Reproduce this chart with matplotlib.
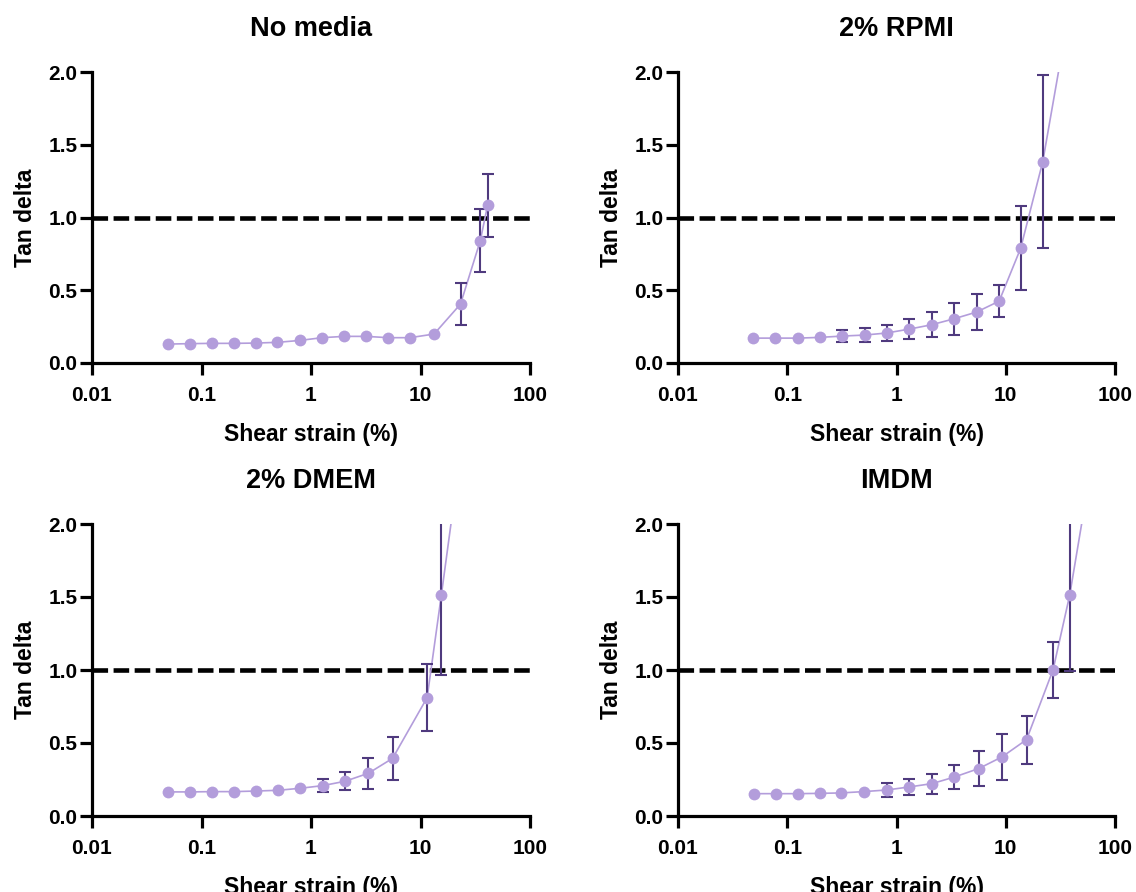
import numpy as np
import matplotlib.pyplot as plt
from matplotlib.ticker import FixedLocator, NullLocator

plt.rcParams['font.family'] = ['Liberation Sans', 'DejaVu Sans']
plt.rcParams['font.weight'] = 'bold'

# Data (strain %, tan delta, error)
titles = ['No media', '2% RPMI', '2% DMEM', 'IMDM']

strain_none = [0.049, 0.078, 0.124, 0.196, 0.313, 0.494, 0.79, 1.26, 2.01, 3.19, 5.07, 8.0, 13.3, 23.2, 35.1, 41.0]
tan_none = [0.130, 0.133, 0.135, 0.135, 0.137, 0.142, 0.155, 0.174, 0.183, 0.183, 0.174, 0.174, 0.199, 0.405, 0.839, 1.083]
err_none = [0, 0, 0, 0, 0, 0, 0, 0, 0, 0, 0, 0, 0, 0.145, 0.216, 0.215]

strain_rpmi = [0.049, 0.078, 0.125, 0.199, 0.318, 0.51, 0.81, 1.31, 2.1, 3.37, 5.4, 8.7, 13.7, 21.8, 34.0]
tan_rpmi = [0.171, 0.171, 0.171, 0.176, 0.185, 0.192, 0.206, 0.233, 0.263, 0.304, 0.350, 0.425, 0.789, 1.383, 2.21]
err_rpmi = [0, 0, 0, 0, 0.040, 0.048, 0.055, 0.070, 0.087, 0.111, 0.122, 0.112, 0.290, 0.593, 0]

strain_dmem = [0.0495, 0.079, 0.125, 0.198, 0.315, 0.50, 0.80, 1.28, 2.05, 3.35, 5.56, 11.5, 15.5, 21.4]
tan_dmem = [0.165, 0.165, 0.167, 0.167, 0.171, 0.176, 0.190, 0.208, 0.238, 0.293, 0.395, 0.811, 1.513, 2.29]
err_dmem = [0, 0, 0, 0, 0, 0, 0, 0.045, 0.063, 0.105, 0.148, 0.230, 0.544, 0]

strain_imdm = [0.0499, 0.0788, 0.125, 0.199, 0.31, 0.499, 0.81, 1.31, 2.12, 3.39, 5.66, 9.25, 15.5, 27.1, 38.5, 56.0]
tan_imdm = [0.153, 0.153, 0.153, 0.155, 0.158, 0.167, 0.178, 0.199, 0.222, 0.267, 0.325, 0.405, 0.523, 1.001, 1.513, 2.24]
err_imdm = [0, 0, 0, 0, 0, 0, 0.045, 0.056, 0.068, 0.081, 0.117, 0.157, 0.164, 0.193, 0.52, 0]

panels = [
    (strain_none, tan_none, err_none),
    (strain_rpmi, tan_rpmi, err_rpmi),
    (strain_dmem, tan_dmem, err_dmem),
    (strain_imdm, tan_imdm, err_imdm),
]

marker_color = '#b39ddb'
bar_color = '#4f3a7e'

fig = plt.figure(figsize=(11.36, 8.92), dpi=100)

# axes boxes in pixels: left, top, right, bottom
boxes = [(92, 72, 530, 363), (678, 72, 1115, 363),
         (92, 524, 530, 816), (678, 524, 1115, 816)]
W, H = 1136, 892

for (x, y, e), title, (l, t, r, b) in zip(panels, titles, boxes):
    ax = fig.add_axes([l / W, 1 - b / H, (r - l) / W, (b - t) / H])
    x = np.array(x)
    y = np.array(y)
    e = np.array(e)

    ax.axhline(1.0, color='black', lw=3.3, dashes=(3.4, 1.2), zorder=1)
    ax.plot(x, y, color=marker_color, lw=1.2, zorder=2)
    m = e > 0
    ax.errorbar(x[m], y[m], yerr=e[m], fmt='none', ecolor=bar_color,
                elinewidth=1.5, capsize=4.6, capthick=1.5, zorder=3)
    ax.plot(x, y, 'o', color=marker_color, ms=8.5, mec='none', zorder=4)

    ax.set_xscale('log')
    ax.set_xlim(0.01, 100)
    ax.set_ylim(0, 2.0)
    ax.xaxis.set_major_locator(FixedLocator([0.01, 0.1, 1, 10, 100]))
    ax.xaxis.set_minor_locator(NullLocator())
    ax.set_xticklabels(['0.01', '0.1', '1', '10', '100'])
    ax.set_yticks([0, 0.5, 1.0, 1.5, 2.0])
    ax.set_yticklabels(['0.0', '0.5', '1.0', '1.5', '2.0'])

    for s in ['top', 'right']:
        ax.spines[s].set_visible(False)
    for s in ['left', 'bottom']:
        ax.spines[s].set_linewidth(2.3)
    ax.tick_params(width=2.3, length=8.6, labelsize=15)
    ax.tick_params(axis='x', pad=7.9)
    ax.tick_params(axis='y', pad=2)

    ax.set_xlabel('Shear strain (%)', fontsize=16.5, fontweight='bold', labelpad=13)
    ax.set_ylabel('Tan delta', fontsize=16.5, fontweight='bold', labelpad=8)
    ax.set_title(title, fontsize=19.5, fontweight='bold', pad=25.6)

fig.savefig('out.png', dpi=100)
